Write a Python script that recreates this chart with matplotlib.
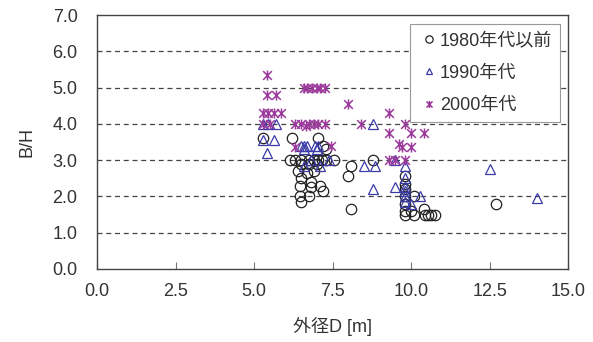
import matplotlib
matplotlib.use("Agg")
import matplotlib.pyplot as plt
from matplotlib.path import Path

plt.rcParams['font.family'] = ['Liberation Sans', 'Noto Sans CJK JP', 'DejaVu Sans']

# data : outer diameter D [m] and B/H ratio by decade
d_1980 = [5.3, 6.2, 7.05, 7.2, 7.3,
          6.15, 6.3, 6.5, 6.75, 6.9, 7.05, 7.15, 7.3, 7.55,
          6.5, 6.75, 7.0, 6.4, 6.7, 6.9, 6.5, 6.8,
          6.45, 6.8, 7.1, 7.2, 6.45, 6.75, 6.5,
          8.1, 8.0, 8.8, 8.1,
          9.8, 9.8, 9.8, 9.8, 10.1, 9.8, 9.8, 10.0, 10.4,
          9.8, 10.1, 10.45, 10.55, 10.65, 10.75, 12.7]
bh_1980 = [3.6, 3.6, 3.6, 3.4, 3.3,
           3.0, 3.0, 3.0, 3.0, 3.0, 3.0, 3.0, 3.0, 3.0,
           2.9, 2.9, 2.9, 2.7, 2.65, 2.7, 2.5, 2.4,
           2.3, 2.25, 2.3, 2.15, 2.0, 2.0, 1.85,
           2.85, 2.55, 3.0, 1.65,
           2.55, 2.35, 2.2, 2.0, 2.0, 1.8, 1.6, 1.6, 1.65,
           1.5, 1.5, 1.5, 1.5, 1.5, 1.5, 1.8]

d_1990 = [5.3, 5.45, 5.7, 5.3, 5.65, 5.4,
          6.5, 6.6, 6.7, 6.95, 7.05, 7.0, 6.6,
          6.6, 7.1, 7.4, 6.8,
          8.8, 8.5, 8.85, 8.8, 9.5, 9.5, 9.8, 9.8, 9.8, 9.8, 9.8, 10.0, 10.3,
          12.5, 14.0, 9.8]
bh_1990 = [4.0, 4.0, 4.0, 3.55, 3.55, 3.2,
           3.4, 3.4, 3.4, 3.4, 3.4, 3.3, 3.3,
           2.85, 2.85, 3.0, 3.0,
           4.0, 2.85, 2.85, 2.2, 2.25, 3.0, 2.85, 2.5, 2.25, 2.15, 1.85, 1.8, 2.0,
           2.75, 1.95, 2.0]

d_2000 = [5.4, 5.4, 5.7, 5.3, 5.45, 5.65, 5.85, 5.3, 5.5,
          6.6, 6.7, 6.85, 7.0, 7.1, 7.25,
          6.3, 6.5, 6.75, 6.9, 7.05, 7.25, 6.65,
          6.3, 7.45,
          8.0, 8.4, 9.3, 9.3, 9.8, 10.0, 10.4, 9.6, 9.7, 10.0, 9.3, 9.5, 9.8]
bh_2000 = [5.35, 4.8, 4.8, 4.3, 4.3, 4.3, 4.3, 4.0, 4.0,
           5.0, 5.0, 5.0, 5.0, 5.0, 5.0,
           4.0, 4.0, 4.0, 4.0, 4.0, 4.0, 3.95,
           3.35, 3.4,
           4.55, 4.0, 4.3, 3.75, 4.0, 3.75, 3.75, 3.45, 3.35, 3.35, 3.0, 3.0, 3.0]

labels = ['1980年代以前', '1990年代', '2000年代']
xticks = [0.0, 2.5, 5.0, 7.5, 10.0, 12.5, 15.0]
yticks = [0.0, 1.0, 2.0, 3.0, 4.0, 5.0, 6.0, 7.0]

# excel style asterisk : X plus a vertical stroke
star = Path([(-1, -1), (1, 1), (-1, 1), (1, -1), (0, -1.15), (0, 1.15)],
            [Path.MOVETO, Path.LINETO, Path.MOVETO, Path.LINETO, Path.MOVETO, Path.LINETO])

fig = plt.figure(figsize=(5.93, 3.42), dpi=100)
ax = fig.add_axes([0.1636, 0.2135, 0.7944, 0.7425])

txt = '#333333'
ax.plot(d_1980, bh_1980, linestyle='none', marker='o', markersize=7.5,
        markerfacecolor='none', markeredgecolor='#222222', markeredgewidth=0.9, label=labels[0])
ax.plot(d_1990, bh_1990, linestyle='none', marker='^', markersize=6.5,
        markerfacecolor='none', markeredgecolor='#3a3aa8', markeredgewidth=0.9, label=labels[1])
ax.plot(d_2000, bh_2000, linestyle='none', marker=star, markersize=7.2,
        markeredgecolor='#9b3a9b', markeredgewidth=1.1, label=labels[2])

ax.set_xlim(0, 15)
ax.set_ylim(0, 7)
ax.set_xticks(xticks)
ax.set_yticks(yticks)
ax.set_xticklabels(['%.1f' % v for v in xticks])
ax.set_yticklabels(['%.1f' % v for v in yticks])
ax.tick_params(axis='x', direction='in', length=5, color='#777777', labelsize=13,
               labelcolor=txt, pad=10)
ax.tick_params(axis='y', length=0, labelsize=13, labelcolor=txt, pad=14)

for v in yticks[1:-1]:
    ax.axhline(v, color='#444444', linestyle=(0, (4, 3)), linewidth=0.9, zorder=0)

for s in ax.spines.values():
    s.set_color('#444444')
    s.set_linewidth(1.0)

ax.set_xlabel('外径D [m]', fontsize=13, color=txt, labelpad=12)
ax.set_ylabel('B/H', fontsize=13, color=txt, labelpad=12)

leg = ax.legend(loc='upper right', bbox_to_anchor=(1.003, 1.0), fontsize=13,
                handletextpad=0.0, handlelength=1.2, borderpad=0.45,
                labelspacing=0.85, fancybox=False, framealpha=1, markerscale=0.7)
leg.get_frame().set_edgecolor('#999999')
leg.get_frame().set_linewidth(0.8)
for t in leg.get_texts():
    t.set_color(txt)

fig.savefig('out.png', dpi=100)
